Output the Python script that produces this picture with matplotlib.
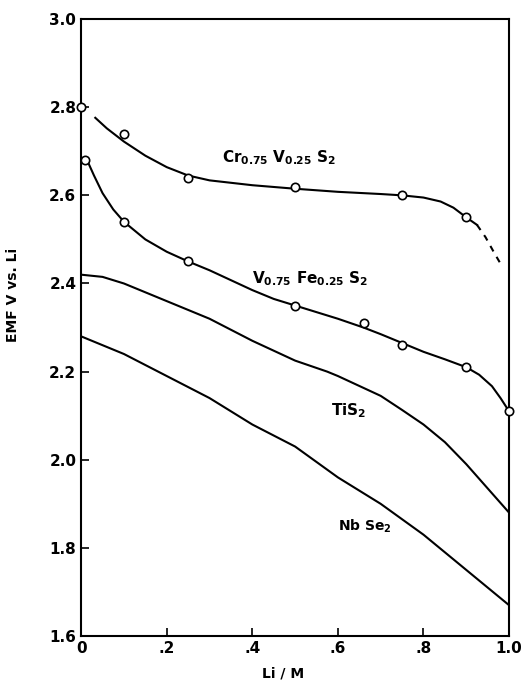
import matplotlib
matplotlib.use("Agg")
import matplotlib.pyplot as plt

plt.rcParams['mathtext.default'] = 'bf'

# measured points (circles)
cr_pts_x = [0.0, 0.1, 0.25, 0.5, 0.75, 0.9]
cr_pts_y = [2.80, 2.74, 2.64, 2.62, 2.60, 2.55]
vfe_pts_x = [0.01, 0.1, 0.25, 0.5, 0.66, 0.75, 0.9, 1.0]
vfe_pts_y = [2.68, 2.54, 2.45, 2.35, 2.31, 2.26, 2.21, 2.11]

# drawn curves
cr_x = [0.033, 0.06, 0.1, 0.15, 0.2, 0.25, 0.3, 0.4, 0.5, 0.6, 0.7, 0.75, 0.8, 0.84, 0.87, 0.9, 0.925]
cr_y = [2.776, 2.752, 2.722, 2.69, 2.664, 2.645, 2.634, 2.623, 2.615, 2.608, 2.603, 2.60, 2.595, 2.586, 2.572, 2.55, 2.533]
cr_dash_x = [0.925, 0.945, 0.965, 0.983]
cr_dash_y = [2.533, 2.505, 2.47, 2.44]

vfe_x = [0.017, 0.03, 0.05, 0.075, 0.1, 0.15, 0.2, 0.25, 0.3, 0.4, 0.45, 0.5, 0.6, 0.66, 0.7, 0.75,
         0.8, 0.85, 0.9, 0.93, 0.96, 0.98, 1.0]
vfe_y = [2.673, 2.645, 2.605, 2.568, 2.54, 2.50, 2.472, 2.45, 2.43, 2.385, 2.365, 2.35, 2.32, 2.30,
         2.285, 2.265, 2.245, 2.228, 2.21, 2.193, 2.167, 2.14, 2.11]

tis2_x = [0.0, 0.05, 0.1, 0.2, 0.3, 0.4, 0.5, 0.575, 0.6, 0.7, 0.75, 0.8, 0.85, 0.9, 0.95, 1.0]
tis2_y = [2.42, 2.415, 2.40, 2.36, 2.32, 2.27, 2.225, 2.20, 2.19, 2.145, 2.113, 2.08, 2.04, 1.99, 1.935, 1.88]

nbse2_x = [0.0, 0.1, 0.2, 0.3, 0.4, 0.5, 0.6, 0.7, 0.8, 0.9, 1.0]
nbse2_y = [2.28, 2.24, 2.19, 2.14, 2.08, 2.03, 1.96, 1.90, 1.83, 1.75, 1.67]

xticks = [0, 0.2, 0.4, 0.6, 0.8, 1.0]
xtick_labels = ["0", ".2", ".4", ".6", ".8", "1.0"]
yticks = [1.6, 1.8, 2.0, 2.2, 2.4, 2.6, 2.8, 3.0]
ytick_labels = ["1.6", "1.8", "2.0", "2.2", "2.4", "2.6", "2.8", "3.0"]

fig = plt.figure(figsize=(5.27, 6.81), dpi=100)
ax = fig.add_axes([0.154, 0.066, 0.812, 0.906])

lw = 1.5
ax.plot(cr_x, cr_y, color='black', lw=lw)
ax.plot(cr_dash_x, cr_dash_y, color='black', lw=lw, ls=(0, (3, 3)))
ax.plot(vfe_x, vfe_y, color='black', lw=lw)
ax.plot(tis2_x, tis2_y, color='black', lw=lw)
ax.plot(nbse2_x, nbse2_y, color='black', lw=lw)

ax.plot(cr_pts_x, cr_pts_y, 'o', ms=6, mfc='white', mec='black', mew=1.2, clip_on=False, zorder=5)
ax.plot(vfe_pts_x, vfe_pts_y, 'o', ms=6, mfc='white', mec='black', mew=1.2, clip_on=False, zorder=5)

ax.text(0.33, 2.675, r"Cr$_{0.75}$ V$_{0.25}$ S$_2$", fontsize=11, fontweight='bold')
ax.text(0.40, 2.40, r"V$_{0.75}$ Fe$_{0.25}$ S$_2$", fontsize=11, fontweight='bold')
ax.text(0.585, 2.10, r"TiS$_2$", fontsize=11, fontweight='bold')
ax.text(0.60, 1.84, r"Nb Se$_2$", fontsize=10, fontweight='bold')

ax.set_xlim(0, 1.0)
ax.set_ylim(1.6, 3.0)
ax.set_xticks(xticks)
ax.set_xticklabels(xtick_labels, fontsize=11, fontweight='bold')
ax.set_yticks(yticks)
ax.set_yticklabels(ytick_labels, fontsize=11, fontweight='bold')
ax.tick_params(direction='in', length=6, width=1.2, top=False, right=False)
for s in ax.spines.values():
    s.set_linewidth(1.5)

ax.set_xlabel("Li / M", fontsize=10, fontweight='bold')
ax.xaxis.set_label_coords(0.472, -0.05)
ax.set_ylabel("EMF V vs. Li", fontsize=10, fontweight='bold')
ax.yaxis.set_label_coords(-0.142, 0.553)

fig.savefig("out.png", dpi=100)
